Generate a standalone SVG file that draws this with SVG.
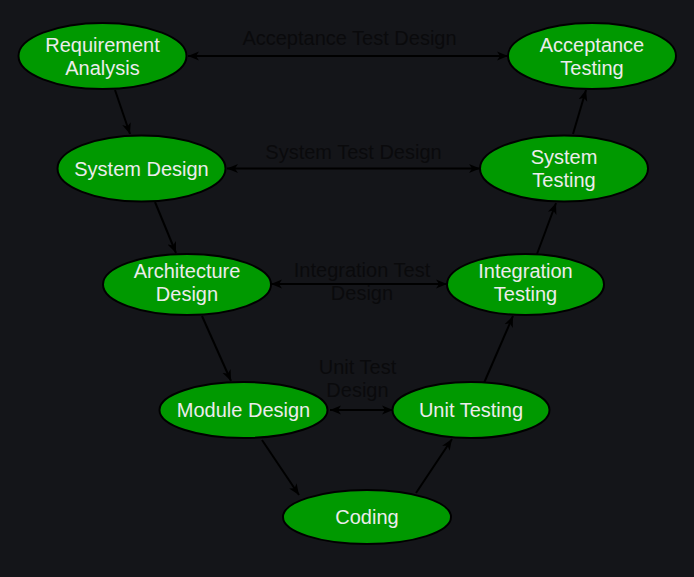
<svg xmlns="http://www.w3.org/2000/svg" width="694" height="577" viewBox="0 0 694 577">
<defs>
<marker id="arr" markerUnits="userSpaceOnUse" markerWidth="12" markerHeight="10" refX="11" refY="4.5" orient="auto-start-reverse" viewBox="0 0 12 9">
<path d="M0,0 L11,4.5 L0,9 L3,4.5 Z" fill="#000"/>
</marker>
<style>
.n ellipse{fill:#009900;stroke:#000;stroke-width:2}
.n text{fill:#ececec;font-family:"Liberation Sans",Arial,sans-serif;font-size:20px;text-anchor:middle}
.e line{stroke:#000;stroke-width:2;fill:none}
.e .d{marker-end:url(#arr)}
.e .b{marker-start:url(#arr);marker-end:url(#arr)}
.lbl{fill:#0a0a0c;font-family:"Liberation Sans",Arial,sans-serif;font-size:20px;text-anchor:middle}
</style>
</defs>
<rect width="694" height="577" fill="#141519"/>
<g id="connectors" class="e">
<line class="b" x1="188" y1="56" x2="508" y2="56"/>
<line class="b" x1="227" y1="168.5" x2="480" y2="168.5"/>
<line class="b" x1="271" y1="284" x2="447" y2="284"/>
<line class="b" x1="330" y1="410" x2="393" y2="410"/>
<line class="d" x1="115" y1="90" x2="130" y2="134"/>
<line class="d" x1="155" y1="202" x2="176" y2="253"/>
<line class="d" x1="202" y1="316" x2="231" y2="381"/>
<line class="d" x1="262" y1="440" x2="299" y2="495"/>
<line class="d" x1="416" y1="493" x2="452" y2="439"/>
<line class="d" x1="484" y1="383" x2="513" y2="316"/>
<line class="d" x1="537" y1="254" x2="556" y2="203"/>
<line class="d" x1="573" y1="134" x2="586" y2="90"/>
</g>
<g id="edge-labels">
<text class="lbl" x="349.5" y="45">Acceptance Test Design</text>
<text class="lbl" x="353.5" y="159">System Test Design</text>
<text class="lbl" x="362" y="277">Integration Test</text>
<text class="lbl" x="362" y="300">Design</text>
<text class="lbl" x="357.5" y="374">Unit Test</text>
<text class="lbl" x="357.5" y="397">Design</text>
</g>
<g id="requirement-analysis" class="n"><ellipse cx="102.5" cy="56" rx="84" ry="33"/><text x="102.5" y="52">Requirement</text><text x="102.5" y="75">Analysis</text></g>
<g id="system-design" class="n"><ellipse cx="141.5" cy="168.5" rx="84" ry="33"/><text x="141.5" y="175.5">System Design</text></g>
<g id="architecture-design" class="n"><ellipse cx="187" cy="284.5" rx="84" ry="30.5"/><text x="187" y="277.5">Architecture</text><text x="187" y="300.5">Design</text></g>
<g id="module-design" class="n"><ellipse cx="243.5" cy="410" rx="84" ry="28"/><text x="243.5" y="417">Module Design</text></g>
<g id="coding" class="n"><ellipse cx="367" cy="517" rx="84" ry="27"/><text x="367" y="524">Coding</text></g>
<g id="unit-testing" class="n"><ellipse cx="471" cy="410" rx="78.5" ry="28"/><text x="471" y="417">Unit Testing</text></g>
<g id="integration-testing" class="n"><ellipse cx="525.5" cy="284.5" rx="78.5" ry="30.5"/><text x="525.5" y="277.5">Integration</text><text x="525.5" y="300.5">Testing</text></g>
<g id="system-testing" class="n"><ellipse cx="564" cy="168.5" rx="84" ry="33"/><text x="564" y="164">System</text><text x="564" y="187">Testing</text></g>
<g id="acceptance-testing" class="n"><ellipse cx="592" cy="56" rx="84" ry="33"/><text x="592" y="52">Acceptance</text><text x="592" y="75">Testing</text></g>
</svg>
